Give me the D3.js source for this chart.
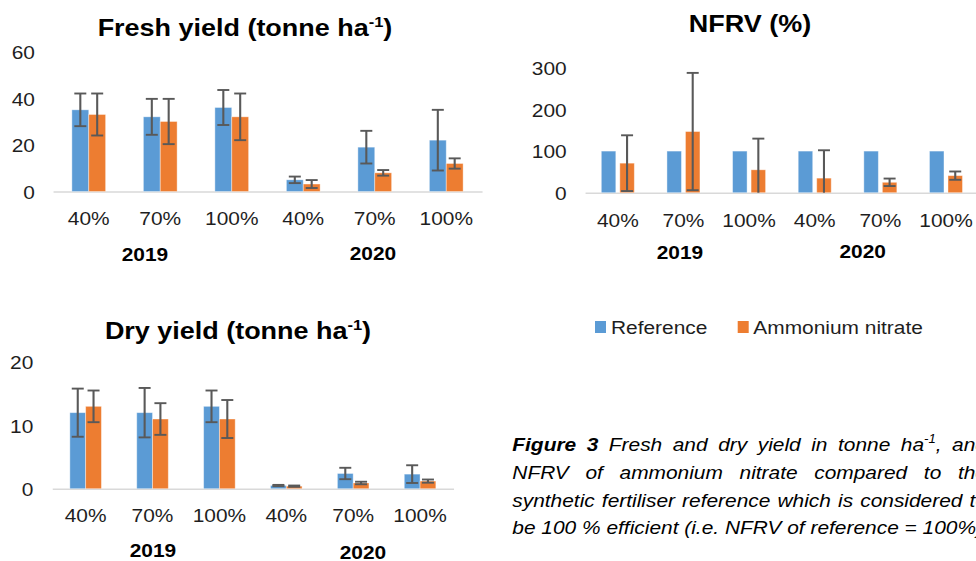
<!DOCTYPE html>
<html><head><meta charset="utf-8">
<script src="https://cdn.jsdelivr.net/npm/d3@7"></script>
<style>
body{margin:0;background:#fff;overflow:hidden}
svg{display:block}
text{font-family:"Liberation Sans",Arial,sans-serif}
</style>
</head><body><svg id="c" width="976" height="561"></svg>
<script>
// ---------- data ----------
const categories = ["40%","70%","100%","40%","70%","100%"];
const years = ["2019","2020"];
const seriesNames = ["Reference","Ammonium nitrate"];
const seriesColors = ["#5B9BD5","#ED7D31"];

const freshRef    = [35, 32, 36, 5, 19, 22];
const freshRefErr = [7, 7.7, 7.5, 1.4, 7, 13];
const freshAN     = [33, 30, 32, 3.2, 8, 12];
const freshANErr  = [9, 9.7, 10, 1.7, 1.2, 2.2];
const freshTicks  = [0, 20, 40, 60];

const nfrvRef     = [100, 100, 100, 100, 100, 100];
const nfrvAN      = [71, 147, 55, 35, 25, 41];
const nfrvANErr   = [67, 141, 75, 67, 9, 10];
const nfrvTicks   = [0, 100, 200, 300];

const dryRef      = [12, 12, 13, 0.5, 2.4, 2.3];
const dryRefErr   = [3.8, 3.9, 2.5, 0.1, 0.9, 1.4];
const dryAN       = [13, 11, 11, 0.4, 0.9, 1.2];
const dryANErr    = [2.5, 2.5, 3, 0.1, 0.2, 0.25];
const dryTicks    = [0, 10, 20];

const captionLines = [
  "**Figure 3** Fresh and dry yield in tonne ha^-1^, and",
  "NFRV of ammonium nitrate compared to the",
  "synthetic fertiliser reference which is considered to",
  "be 100 % efficient (i.e. NFRV of reference = 100%)."
];

// ---------- layout ----------
const SX = 1.1;                 // horizontal stretch of the original picture
const X = v => v / SX;
const svg = d3.select("#c");
const root = svg.append("g").attr("transform", `scale(${SX},1)`);

const panels = [
  {title:["Fresh yield (tonne ha","-1",")"], tx:245, ty:36,
   values:[freshRef, freshAN], errs:[freshRefErr, freshANErr], ticks:freshTicks, max:60,
   x0:53, x1:482, y0:191.5, yTop:51.5, tickRight:35, labelBase:225,
   barFrac:0.236, gapFrac:0, yearPos:[[145,261.5],[373,260]]},
  {title:["NFRV (%)"], tx:750, ty:32.5,
   values:[nfrvRef, nfrvAN], errs:[null, nfrvANErr], ticks:nfrvTicks, max:300,
   x0:585, x1:978.8, y0:192.7, yTop:67.9, tickRight:566.7, labelBase:226.7,
   barFrac:0.221, gapFrac:0.061, yearPos:[[680,259.3],[862.7,258.3]]},
  {title:["Dry yield (tonne ha","-1",")"], tx:238, ty:339.3,
   values:[dryRef, dryAN], errs:[dryRefErr, dryANErr], ticks:dryTicks, max:20,
   x0:52.2, x1:453.5, y0:488.7, yTop:362, tickRight:33.3, labelBase:521.7,
   barFrac:0.236, gapFrac:0, yearPos:[[153,556.7],[363,558.7]]}
];

function drawPanel(cfg){
  const g = root.append("g");
  const xb = d3.scaleBand().domain(d3.range(categories.length)).range([X(cfg.x0), X(cfg.x1)]);
  const y = d3.scaleLinear().domain([0, cfg.max]).range([cfg.y0, cfg.yTop]);
  const bw = xb.bandwidth();
  const w = bw * cfg.barFrac, gap = bw * cfg.gapFrac;
  const sub = d3.scaleBand().domain(seriesNames)
      .range([-(w + gap/2), w + gap/2]).paddingInner(gap/(w+gap));

  // y axis labels
  const ya = g.append("g").attr("transform", `translate(${X(cfg.tickRight)},0)`)
    .call(d3.axisLeft(y).tickValues(cfg.ticks).tickSize(0).tickPadding(0));
  ya.select(".domain").remove();
  ya.selectAll("text").attr("font-size", 19).attr("fill", "#1e1e1e")
    .attr("font-family", '"Liberation Sans",Arial,sans-serif').attr("dy","0.36em");

  // x axis
  const xa = g.append("g").attr("transform", `translate(0,${cfg.y0})`)
    .call(d3.axisBottom(xb).tickFormat(i => categories[i]).tickSize(0).tickSizeOuter(0));
  xa.select(".domain").attr("stroke", "#d9d9d9").attr("stroke-width", 1.6);
  xa.selectAll("text").attr("font-size", 19).attr("fill", "#1e1e1e")
    .attr("font-family", '"Liberation Sans",Arial,sans-serif')
    .attr("y", cfg.labelBase - cfg.y0).attr("dy", 0);

  // bars
  seriesNames.forEach((s, si) => {
    g.append("g").selectAll("rect")
      .data(cfg.values[si].map((v, i) => ({i, v})))
      .join("rect")
      .attr("x", d => xb(d.i) + bw/2 + sub(s))
      .attr("width", sub.bandwidth())
      .attr("y", d => y(d.v))
      .attr("height", d => y(0) - y(d.v))
      .attr("fill", seriesColors[si])
      .attr("stroke", "#ffffff").attr("stroke-opacity", 0.45).attr("stroke-width", 0.8);
  });

  // error bars
  const capHalf = X(6);
  seriesNames.forEach((s, si) => {
    const errs = cfg.errs[si];
    if (!errs) return;
    const eg = g.append("g").attr("stroke", "#595959").attr("stroke-width", 1.9).attr("fill", "none");
    cfg.values[si].forEach((v, i) => {
      const e = errs[i];
      const cx = xb(i) + bw/2 + sub(s) + sub.bandwidth()/2;
      const lo = Math.max(0, v - e), hi = Math.min(cfg.max, v + e);
      eg.append("line").attr("x1", cx).attr("x2", cx).attr("y1", y(lo)).attr("y2", y(hi));
      if (v + e <= cfg.max)
        eg.append("line").attr("x1", cx - capHalf).attr("x2", cx + capHalf).attr("y1", y(hi)).attr("y2", y(hi));
      if (v - e >= 0)
        eg.append("line").attr("x1", cx - capHalf).attr("x2", cx + capHalf).attr("y1", y(lo)).attr("y2", y(lo));
    });
  });

  // year labels
  years.forEach((yr, k) => {
    g.append("text").attr("x", X(cfg.yearPos[k][0])).attr("y", cfg.yearPos[k][1])
      .attr("text-anchor", "middle").attr("font-size", 19).attr("font-weight", "bold")
      .attr("fill", "#000").text(yr);
  });

  // title
  const t = g.append("text").attr("x", X(cfg.tx)).attr("y", cfg.ty)
    .attr("text-anchor", "middle").attr("font-size", 24.5).attr("font-weight", "bold").attr("fill", "#000");
  t.append("tspan").text(cfg.title[0]);
  if (cfg.title.length > 1) {
    t.append("tspan").attr("font-size", 15).attr("dy", -9).text(cfg.title[1]);
    t.append("tspan").attr("dy", 9).text(cfg.title[2]);
  }
}
panels.forEach(drawPanel);

// legend
const legendItems = [[595, 611], [737.7, 753.3]];
seriesNames.forEach((s, si) => {
  root.append("rect").attr("x", X(legendItems[si][0])).attr("y", 321)
    .attr("width", X(11)).attr("height", 12).attr("fill", seriesColors[si]);
  root.append("text").attr("x", X(legendItems[si][1])).attr("y", 334)
    .attr("font-size", 19).attr("fill", "#1e1e1e").text(s);
});

// caption (justified)
const capLeft = X(512.3), capRight = X(987);
const capBase = [451, 478.8, 506.6, 534.4];
function parseWords(line){
  let bold = false;
  return line.split(" ").map(wd => {
    const segs = [];
    let rest = wd;
    while (rest.length) {
      if (rest.startsWith("**")) { bold = !bold; rest = rest.slice(2); continue; }
      if (rest.startsWith("^")) {
        const end = rest.indexOf("^", 1);
        segs.push({t: rest.slice(1, end), b: bold, sup: true});
        rest = rest.slice(end + 1); continue;
      }
      let m = rest.search(/\*\*|\^/); if (m < 0) m = rest.length;
      segs.push({t: rest.slice(0, m), b: bold, sup: false});
      rest = rest.slice(m);
    }
    return segs;
  });
}
captionLines.forEach((line, li) => {
  const words = parseWords(line);
  const nodes = words.map(segs => {
    const t = root.append("text").attr("y", capBase[li]).attr("font-size", 19)
      .attr("font-style", "italic").attr("fill", "#000");
    let raised = false;
    segs.forEach(sg => {
      const ts = t.append("tspan").text(sg.t).attr("font-weight", sg.b ? "bold" : "normal");
      if (sg.sup) { ts.attr("font-size", 12).attr("dy", -8); raised = true; }
      else if (raised) { ts.attr("dy", 8); raised = false; }
    });
    return t;
  });
  const widths = nodes.map(n => n.node().getComputedTextLength());
  const total = d3.sum(widths);
  const space = 19 * 0.278;
  const gapW = li < captionLines.length - 1 ? (capRight - capLeft - total) / (words.length - 1) : space;
  let x = capLeft;
  nodes.forEach((n, k) => { n.attr("x", x); x += widths[k] + gapW; });
});
</script>
</body></html>
